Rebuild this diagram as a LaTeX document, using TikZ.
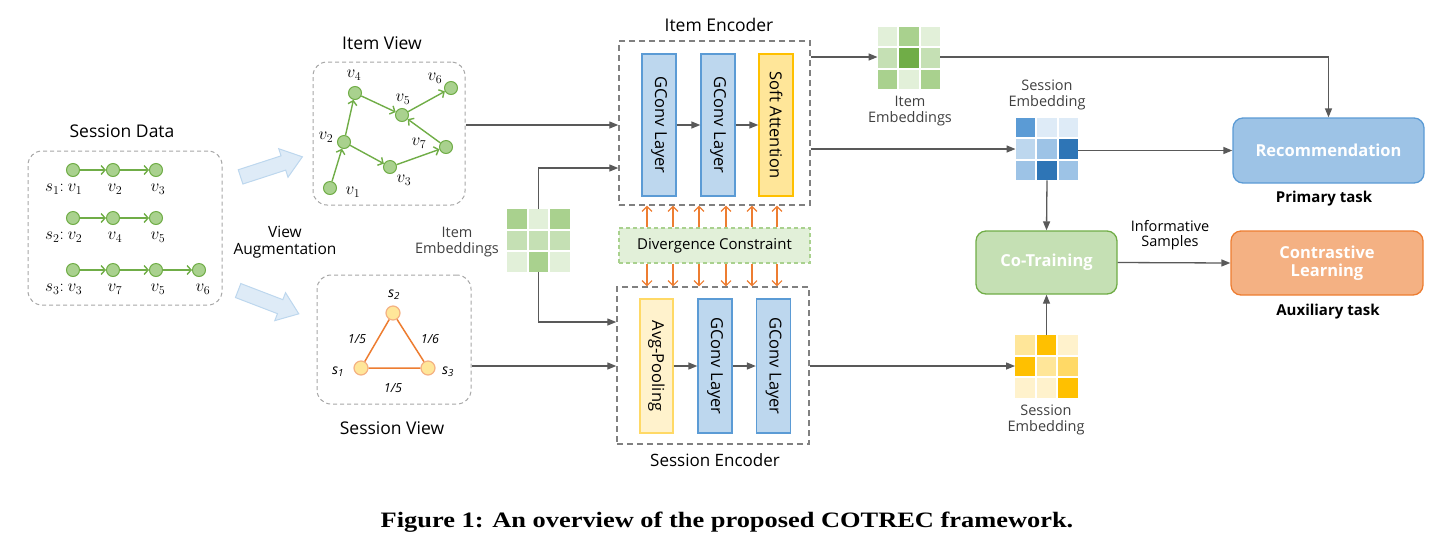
\documentclass[tikz,border=0pt]{standalone}
\usepackage{fontspec}
\setsansfont{Open Sans}
\newfontfamily\capfont{Liberation Serif}
\usetikzlibrary{arrows.meta,calc}
\definecolor{gF}{HTML}{A9D18E}
\definecolor{gB}{HTML}{70AD47}
\definecolor{gL}{HTML}{E2F0D9}
\definecolor{gM}{HTML}{C5E0B4}
\definecolor{cgray}{HTML}{595959}
\definecolor{dgray}{HTML}{A6A6A6}
\definecolor{egray}{HTML}{808080}
\definecolor{bF}{HTML}{BDD7EE}
\definecolor{bB}{HTML}{5B9BD5}
\definecolor{bL}{HTML}{DEEBF7}
\definecolor{bM}{HTML}{9DC3E6}
\definecolor{bD}{HTML}{2E75B6}
\definecolor{yF}{HTML}{FFE699}
\definecolor{yB}{HTML}{FFC000}
\definecolor{yL}{HTML}{FFF2CC}
\definecolor{yM}{HTML}{FFD966}
\definecolor{oB}{HTML}{ED7D31}
\definecolor{oF}{HTML}{F4B183}
\definecolor{tgray}{HTML}{404040}
\newcommand\egrid[4]{%
  \node[minimum size=62.5pt, inner sep=0pt] (#1) at (#2,#3) {};
  \foreach \c [count=\i from 0] in {#4} {
    \pgfmathtruncatemacro\gcol{mod(\i,3)}
    \pgfmathtruncatemacro\grow{div(\i,3)}
    \fill[\c] ($(#1.north west)+(\gcol*21.5,\grow*21.5)$) rectangle ++(19.5,19.5);
  }}
\newcommand\fs[1]{\fontsize{#1}{#1}\selectfont}
\begin{document}
\begin{tikzpicture}[x=1pt,y=-1pt,font=\sffamily,
  dbox/.style={draw=dgray, dashed, dash pattern=on 4pt off 3pt, rounded corners=14pt, line width=1pt, inner sep=0pt},
  encbox/.style={draw=egray, dash pattern=on 6pt off 4pt, line width=1.4pt, inner sep=0pt},
  layer/.style={draw=bB, fill=bF, line width=1.3pt, minimum width=34pt, minimum height=142pt, inner sep=0pt, font=\sffamily\fs{16.5}},
  gnode/.style={circle, fill=gF, draw=gB, line width=1pt, minimum size=13pt, inner sep=0pt},
  snode/.style={circle, fill=yF, draw=oF, line width=1.2pt, minimum size=14pt, inner sep=0pt},
  garrow/.style={draw=gB, line width=1.4pt, -{Straight Barb[length=4pt,width=9pt]}},
  conn/.style={draw=cgray, line width=1.3pt, -{Triangle[length=9pt,width=7pt]}},
  oarrow/.style={draw=oB, line width=1.1pt, -{Straight Barb[length=5pt,width=10pt]}},
  lbl/.style={inner sep=0pt, text=tgray, font=\sffamily\fs{14.5}, align=center},
  ttl/.style={inner sep=0pt, text=black, font=\sffamily\fs{17.5}},
  mlab/.style={inner sep=0pt, font=\fs{17}},
  task/.style={rounded corners=10pt, line width=1.3pt, inner sep=0pt, text=white, font=\sffamily\bfseries\fs{16.5}, align=center},
  fat/.style={fill=bL, draw=bF, line width=1pt}
]
\useasboundingbox (0,0) rectangle (1451,558);

% ---------- Session Data ----------
\node[ttl] (sdt) at (122,131) {Session Data};
\node[dbox, minimum width=194pt, minimum height=154pt] (sd) at (125,228) {};
\foreach \r/\y in {1/170,2/218,3/270} {
  \node[gnode] (a\r1) at (73,\y) {};
  \node[gnode] (a\r2) at (113,\y) {};
  \node[gnode] (a\r3) at (156,\y) {};
}
\node[gnode] (a34) at (199,270) {};
\draw[garrow] (a11) -- (a12); \draw[garrow] (a12) -- (a13);
\draw[garrow] (a21) -- (a22); \draw[garrow] (a22) -- (a23);
\draw[garrow] (a31) -- (a32); \draw[garrow] (a32) -- (a33); \draw[garrow] (a33) -- (a34);
\node[mlab, anchor=east] (sl1) at (64,189) {$s_1$:};
\node[mlab] (l11) at (75,189) {$v_1$};
\node[mlab] (l12) at (115,189) {$v_2$};
\node[mlab] (l13) at (158,189) {$v_3$};
\node[mlab, anchor=east] (sl2) at (64,237) {$s_2$:};
\node[mlab] (l21) at (75,237) {$v_2$};
\node[mlab] (l22) at (115,237) {$v_4$};
\node[mlab] (l23) at (158,237) {$v_5$};
\node[mlab, anchor=east] (sl3) at (64,289) {$s_3$:};
\node[mlab] (l31) at (75,289) {$v_3$};
\node[mlab] (l32) at (115,289) {$v_7$};
\node[mlab] (l33) at (158,289) {$v_5$};
\node[mlab] (l34) at (203,289) {$v_6$};

% ---------- View augmentation arrows ----------
\draw[fat, shift={(271,167)}, rotate=18] (-32,-7.5) -- (13,-7.5) -- (13,-15) -- (33,0) -- (13,15) -- (13,7.5) -- (-32,7.5) -- cycle;
\draw[fat, shift={(268,302)}, rotate=-21] (-32,-7.5) -- (13,-7.5) -- (13,-15) -- (33,0) -- (13,15) -- (13,7.5) -- (-32,7.5) -- cycle;
\node[ttl, font=\sffamily\fs{15.5}, align=center] (va) at (285,242) {View\\[2pt]Augmentation};

% ---------- Item View ----------
\node[ttl] (ivt) at (382,43) {Item View};
\node[dbox, minimum width=152pt, minimum height=143pt] (iv) at (389,133.5) {};
\node[gnode] (v1) at (330,188) {};
\node[gnode] (v2) at (344,142) {};
\node[gnode] (v3) at (390,167) {};
\node[gnode] (v4) at (355,93) {};
\node[gnode] (v5) at (402,115) {};
\node[gnode] (v6) at (451,88) {};
\node[gnode] (v7) at (446,147) {};
\draw[garrow] (v1) -- (v2);
\draw[garrow] (v2) -- (v4);
\draw[garrow] (v4) -- (v5);
\draw[garrow] (v5) -- (v6);
\draw[garrow] (v2) -- (v3);
\draw[garrow] (v3) -- (v7);
\draw[garrow] (v7) -- (v5);
\node[mlab] (lv1) at (353,192) {$v_1$};
\node[mlab] (lv2) at (326,137) {$v_2$};
\node[mlab] (lv3) at (404,180) {$v_3$};
\node[mlab] (lv4) at (354,75) {$v_4$};
\node[mlab] (lv5) at (403,99) {$v_5$};
\node[mlab] (lv6) at (435,78) {$v_6$};
\node[mlab] (lv7) at (419,143) {$v_7$};

% ---------- Session View ----------
\node[dbox, minimum width=154pt, minimum height=129pt] (sv) at (394,339.5) {};
\node[ttl] (svt) at (392,428) {Session View};
\node[snode] (s1) at (361,368) {};
\node[snode] (s2) at (393,313) {};
\node[snode] (s3) at (428,368) {};
\draw[oB, line width=1.5pt] (s1) -- (s2) -- (s3) -- (s1);
\node[inner sep=0pt, font=\sffamily\itshape\fs{14}] (ls1) at (338,372) {s\textsubscript{1}};
\node[inner sep=0pt, font=\sffamily\itshape\fs{14}] (ls2) at (394,295) {s\textsubscript{2}};
\node[inner sep=0pt, font=\sffamily\itshape\fs{14}] (ls3) at (448,372) {s\textsubscript{3}};
\node[inner sep=0pt, font=\sffamily\itshape\fs{12.5}] (w1) at (357,339) {1/5};
\node[inner sep=0pt, font=\sffamily\itshape\fs{12.5}] (w2) at (430,339) {1/6};
\node[inner sep=0pt, font=\sffamily\itshape\fs{12.5}] (w3) at (393,388) {1/5};

% ---------- Middle item embeddings ----------
\egrid{mg}{538.5}{240.5}{gF,gL,gF,gM,gM,gM,gL,gF,gL}
\node[lbl] (mgl) at (457,242) {Item\\[1pt]Embeddings};

% ---------- Item Encoder ----------
\node[ttl] (iet) at (719,25) {Item Encoder};
\node[encbox, minimum width=191pt, minimum height=164pt] (ie) at (714.5,123) {};
\node[layer, minimum height=142pt] (il1) at (659,125) {\rotatebox{-90}{GConv Layer}};
\node[layer, minimum height=142pt] (il2) at (718,125) {\rotatebox{-90}{GConv Layer}};
\node[layer, minimum height=142pt, fill=yF, draw=yB] (il3) at (776,125) {\rotatebox{-90}{Soft Attention}};
\draw[conn] (il1.east) -- (il2.west);
\draw[conn] (il2.east) -- (il3.west);

% ---------- Divergence ----------
\node[draw=gF, fill=gL, dash pattern=on 4pt off 3pt, line width=1.2pt, minimum width=191pt, minimum height=35pt, inner sep=0pt, font=\sffamily\fs{15}] (dc) at (714.5,245.5) {Divergence Constraint};

% ---------- Session Encoder ----------
\node[encbox, minimum width=192pt, minimum height=157pt] (se) at (713,365.5) {};
\node[ttl, font=\sffamily\fs{17}] (set) at (715,460) {Session Encoder};
\node[layer, minimum height=134pt, minimum width=33pt, fill=yL, draw=yM] (sl1n) at (656.5,366) {\rotatebox{-90}{Avg-Pooling}};
\node[layer, minimum height=134pt] (sl2n) at (715,366) {\rotatebox{-90}{GConv Layer}};
\node[layer, minimum height=134pt] (sl3n) at (773.5,366) {\rotatebox{-90}{GConv Layer}};
\draw[conn] (sl1n.east) -- (sl2n.west);
\draw[conn] (sl2n.east) -- (sl3n.west);

% orange arrows
\foreach \x [count=\k] in {647,673,699,726,752,777} {
  \coordinate (ox\k) at (\x,0);
  \draw[oarrow] (dc.north -| ox\k) -- (ie.south -| ox\k);
  \draw[oarrow] (dc.south -| ox\k) -- (se.north -| ox\k);
}

% ---------- inputs to encoders ----------
\coordinate (y125) at (0,125);
\coordinate (y168) at (0,168);
\coordinate (y322) at (0,322);
\coordinate (y366) at (0,366);
\coordinate (y57) at (0,57);
\coordinate (y149) at (0,149);
\draw[conn] (iv.east |- y125) -- (ie.west |- y125);
\draw[conn] (mg.north) |- (ie.west |- y168);
\draw[conn] (mg.south) |- (se.west |- y322);
\draw[conn] (sv.east |- y366) -- (se.west |- y366);

% ---------- right side ----------
\egrid{tg}{909}{58}{gL,gF,gL,gM,gB,gM,gF,gL,gF}
\node[lbl] (tgl) at (910,111) {Item\\[1pt]Embeddings};
\egrid{bg}{1047}{149}{bB,bL,bL,bF,bM,bD,bM,bD,bM}
\node[lbl] (bgl) at (1047,95) {Session\\[1pt]Embedding};
\egrid{yg}{1046.5}{366.5}{yF,yB,yL,yB,yF,yM,yL,yL,yB}
\node[lbl] (ygl) at (1046,420) {Session\\[1pt]Embedding};

\node[task, fill=gM, draw=gB, minimum width=141pt, minimum height=63pt] (ct) at (1046.5,262.5) {Co-Training};
\node[task, fill=bM, draw=bB, minimum width=191pt, minimum height=65pt] (rec) at (1328.5,150.5) {Recommendation};
\node[task, fill=oF, draw=oB, minimum width=192pt, minimum height=64pt] (cl) at (1327,263) {Contrastive\\[1pt]Learning};
\node[inner sep=0pt, font=\sffamily\bfseries\fs{15}] (pt) at (1324,199) {Primary task};
\node[inner sep=0pt, font=\sffamily\bfseries\fs{15}] (at) at (1328,312) {Auxiliary task};
\node[inner sep=0pt, font=\sffamily\fs{14.5}, align=center] (is) at (1170,235) {Informative\\[1pt]Samples};

\draw[conn] (ie.east |- y57) -- (tg.west |- y57);
\draw[conn] (tg.east |- y57) -| (rec.north);
\draw[conn] (ie.east |- y149) -- (bg.west |- y149);
\draw[conn] (bg.east |- rec.west) -- (rec.west);
\draw[conn] (bg.south) -- (ct.north);
\draw[conn] (se.east |- y366) -- (yg.west |- y366);
\draw[conn] (yg.north) -- (ct.south);
\draw[conn] (ct.east) -- (cl.west);

% ---------- caption ----------
\node[inner sep=0pt, font=\capfont\bfseries\fs{22}] (cap) at (727,522) {\scalebox{1.2}[1]{Figure 1: An overview of the proposed COTREC framework.}};
\end{tikzpicture}
\end{document}
